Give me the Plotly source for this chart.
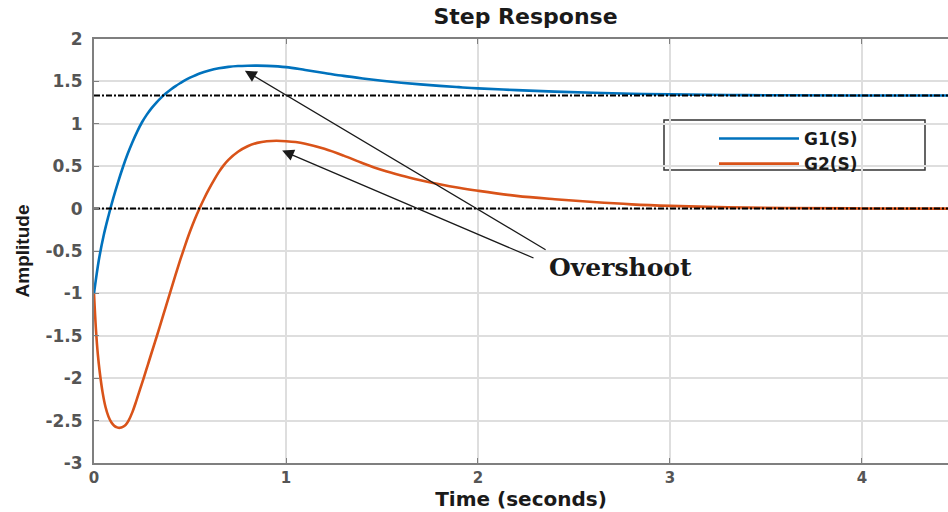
import plotly.graph_objects as go

# ---- data ----
t_g1 = [0.0, 0.025, 0.05, 0.075, 0.1, 0.125, 0.15, 0.175, 0.2, 0.225, 0.25, 0.275, 0.3, 0.325,
        0.35, 0.375, 0.4, 0.425, 0.45, 0.475, 0.5, 0.55, 0.6, 0.65, 0.7, 0.75, 0.8, 0.85, 0.9,
        1.0, 1.1, 1.2, 1.3, 1.4, 1.5, 1.6, 1.7, 1.8, 1.9, 2.0, 2.2, 2.4, 2.6, 2.8, 3.0, 3.3, 3.6,
        4.0, 4.45]
y_g1 = [-1.0, -0.61, -0.32, -0.09, 0.12, 0.31, 0.485, 0.643, 0.783, 0.908, 1.018, 1.108, 1.185,
        1.251, 1.309, 1.359, 1.404, 1.445, 1.481, 1.515, 1.544, 1.594, 1.629, 1.654, 1.671, 1.681,
        1.685, 1.686, 1.683, 1.668, 1.635, 1.6, 1.565, 1.535, 1.508, 1.485, 1.465, 1.447, 1.432,
        1.418, 1.397, 1.38, 1.366, 1.355, 1.347, 1.34, 1.336, 1.334, 1.333]

t_g2 = [0.0, 0.01, 0.02, 0.03, 0.045, 0.06, 0.075, 0.09, 0.105, 0.12, 0.135, 0.15, 0.165, 0.18,
        0.2, 0.22, 0.24, 0.26, 0.28, 0.3, 0.325, 0.35, 0.375, 0.4, 0.425, 0.45, 0.475, 0.5, 0.525,
        0.55, 0.575, 0.6, 0.625, 0.65, 0.675, 0.7, 0.75, 0.8, 0.85, 0.9, 0.95, 1.0, 1.05, 1.1,
        1.2, 1.3, 1.4, 1.5, 1.6, 1.7, 1.8, 1.9, 2.0, 2.2, 2.4, 2.6, 2.8, 3.0, 3.3, 3.6, 4.0, 4.45]
y_g2 = [-1.0, -1.42, -1.72, -1.93, -2.17, -2.34, -2.45, -2.52, -2.56, -2.58, -2.585, -2.575,
        -2.55, -2.5, -2.4, -2.27, -2.13, -1.99, -1.845, -1.7, -1.52, -1.335, -1.15, -0.965, -0.78,
        -0.6, -0.43, -0.27, -0.125, 0.005, 0.125, 0.235, 0.335, 0.43, 0.51, 0.575, 0.67, 0.735,
        0.775, 0.795, 0.8, 0.795, 0.785, 0.765, 0.705, 0.625, 0.535, 0.455, 0.39, 0.335, 0.287,
        0.245, 0.21, 0.15, 0.11, 0.077, 0.05, 0.032, 0.016, 0.007, 0.002, 0.0]

final_values = [1.333, 0.0]
series_names = ["G1(S)", "G2(S)"]
x_ticks = [0, 1, 2, 3, 4]
y_ticks = [-3, -2.5, -2, -1.5, -1, -0.5, 0, 0.5, 1, 1.5, 2]
y_tick_text = ["-3", "-2.5", "-2", "-1.5", "-1", "-0.5", "0", "0.5", "1", "1.5", "2"]

X_MAX = 4.448
BLUE = "#0072BD"
ORANGE = "#D95319"
GRID = "#dedede"
AXC = "#7f7f7f"
TICKC = "#555555"

fig = go.Figure()
fig.add_trace(go.Scatter(x=t_g1, y=y_g1, mode="lines", name=series_names[0],
                         line=dict(color=BLUE, width=2.6, shape="spline", smoothing=1.0)))
fig.add_trace(go.Scatter(x=t_g2, y=y_g2, mode="lines", name=series_names[1],
                         line=dict(color=ORANGE, width=2.6, shape="spline", smoothing=1.0)))
for v in final_values:
    fig.add_trace(go.Scatter(x=[0, X_MAX], y=[v, v], mode="lines", showlegend=False,
                             hoverinfo="skip",
                             line=dict(color="black", width=2, dash="6px,2px,2px,2px")))

# arrows + label
fig.add_annotation(x=0.786, y=1.627, ax=2.36, ay=-0.495, axref="x", ayref="y", xref="x", yref="y",
                   text="", showarrow=True, arrowhead=2, arrowsize=1.8, arrowwidth=1.3, arrowcolor="#1a1a1a")
fig.add_annotation(x=0.98, y=0.684, ax=2.297, ay=-0.59, axref="x", ayref="y", xref="x", yref="y",
                   text="", showarrow=True, arrowhead=2, arrowsize=1.8, arrowwidth=1.3, arrowcolor="#1a1a1a")
fig.add_annotation(x=2.36, y=-0.69, xref="x", yref="y", text="<b>Overshoot</b>", showarrow=False,
                   xanchor="left", yanchor="middle",
                   font=dict(family="DejaVu Serif", size=25, color="#1a1a1a"))

# legend box
fig.add_shape(type="rect", xref="paper", yref="paper", x0=(664 - 94) / 854, x1=(925 - 94) / 854,
              y0=(463 - 170) / 424, y1=(463 - 120) / 424, line=dict(color="#333333", width=1.5),
              fillcolor="white", layer="below")

fig.update_layout(
    width=948, height=512,
    margin=dict(l=94, r=0, t=39, b=49),
    paper_bgcolor="white", plot_bgcolor="rgba(0,0,0,0)",
    title=dict(text="Step Response", x=(525.5 - 94) / 854, xref="paper", xanchor="center",
               y=1 - 16 / 512, yref="container", yanchor="middle",
               font=dict(family="DejaVu Sans", size=22, color="#1a1a1a", weight="bold")),
    showlegend=True,
    legend=dict(x=(714 - 94) / 854, y=(463 - 121) / 424, xanchor="left", yanchor="top",
                bgcolor="rgba(0,0,0,0)", borderwidth=0, itemwidth=80, tracegroupgap=0,
                font=dict(family="DejaVu Sans", size=17, color="#1a1a1a", weight="bold")),
    xaxis=dict(range=[0, X_MAX], tickvals=x_ticks, ticks="inside", ticklen=5, tickcolor=AXC,
               showline=True, linecolor=AXC, linewidth=2, mirror="ticks",
               showgrid=True, gridcolor=GRID, gridwidth=1.5, zeroline=False,
               ticklabelstandoff=0,
               tickfont=dict(family="DejaVu Sans", size=15, color=TICKC, weight="bold"),
               title=dict(text="Time (seconds)", standoff=6,
                          font=dict(family="DejaVu Sans", size=20, color="#1a1a1a", weight="bold"))),
    yaxis=dict(range=[-3, 2], tickvals=y_ticks, ticktext=y_tick_text, ticks="inside", ticklen=5,
               tickcolor=AXC, showline=True, linecolor=AXC, linewidth=2, mirror=False,
               showgrid=True, gridcolor=GRID, gridwidth=1.5, zeroline=False,
               ticklabelstandoff=6,
               tickfont=dict(family="DejaVu Sans", size=17, color=TICKC, weight="bold"),
               title=dict(text="Amplitude", standoff=11,
                          font=dict(family="Liberation Sans Narrow, Liberation Sans", size=19,
                                    color="#1a1a1a", weight="bold"))),
)

fig.write_html("out.html")
